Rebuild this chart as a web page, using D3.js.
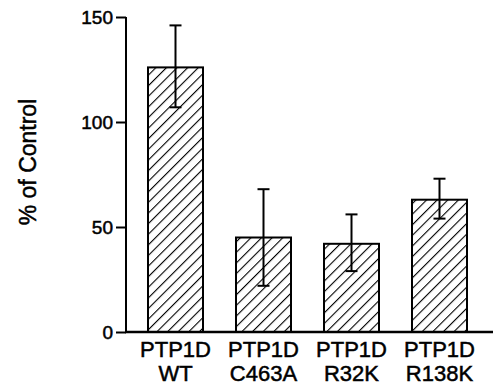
<!DOCTYPE html>
<html>
<head>
<meta charset="utf-8">
<script src="https://cdn.jsdelivr.net/npm/d3@7"></script>
<style>
  body { margin: 0; background: #fff; }
  svg { font-family: "Liberation Sans", Arial, Helvetica, sans-serif; }
  text { stroke: #000; stroke-width: 0.5px; }
</style>
</head>
<body>
<div id="chart"></div>
<script>
// values
var groups = ["WT", "C463A", "R32K", "R138K"];
var values = [126, 45, 42, 63];
var errHigh = [146, 68, 56, 73];
var errLow = [107, 22, 29, 54];
var yTicks = [0, 50, 100, 150];

var width = 493, height = 385;

var svg = d3.select("#chart")
    .append("svg")
    .attr("width", width)
    .attr("height", height);

// hatch fill
var defs = svg.append("defs");
defs.append("pattern")
    .attr("id", "hatch")
    .attr("patternUnits", "userSpaceOnUse")
    .attr("width", 7.5)
    .attr("height", 7.5)
    .attr("patternTransform", "rotate(45)")
  .append("line")
    .attr("x1", 0).attr("y1", 0)
    .attr("x2", 0).attr("y2", 7.5)
    .attr("stroke", "#000")
    .attr("stroke-width", 2.2);

var x = d3.scaleBand()
    .domain(groups)
    .range([148, 467])
    .paddingInner(0.375)
    .paddingOuter(0);

var y = d3.scaleLinear()
    .domain([0, 150])
    .range([332, 17]);

// y axis
var yAxis = svg.append("g")
    .attr("transform", "translate(126,0)")
    .call(d3.axisLeft(y).tickValues(yTicks).tickSize(10).tickPadding(3));
yAxis.select(".domain").remove();
yAxis.selectAll("line").attr("stroke", "#000").attr("stroke-width", 2);
yAxis.selectAll("text")
    .attr("font-size", 19)
    .attr("font-family", "Liberation Sans, Arial, sans-serif")
    .attr("fill", "#000");

svg.append("line")
    .attr("x1", 126).attr("x2", 126)
    .attr("y1", y(150)).attr("y2", y(0))
    .attr("stroke", "#000").attr("stroke-width", 2);

// bars
svg.append("g")
  .selectAll("rect")
  .data(groups)
  .enter().append("rect")
    .attr("x", function(d) { return x(d); })
    .attr("y", function(d, i) { return y(values[i]); })
    .attr("width", x.bandwidth())
    .attr("height", function(d, i) { return y(0) - y(values[i]); })
    .attr("fill", "url(#hatch)")
    .attr("stroke", "#000")
    .attr("stroke-width", 2);

// baseline
svg.append("line")
    .attr("x1", 125).attr("x2", width)
    .attr("y1", y(0)).attr("y2", y(0))
    .attr("stroke", "#000").attr("stroke-width", 2.5);

// error bars
var err = svg.append("g").attr("stroke", "#000").attr("stroke-width", 2);
groups.forEach(function(d, i) {
  var cx = x(d) + x.bandwidth() / 2;
  err.append("line")
      .attr("x1", cx).attr("x2", cx)
      .attr("y1", y(errHigh[i])).attr("y2", y(errLow[i]));
  [errHigh[i], errLow[i]].forEach(function(v) {
    err.append("line")
        .attr("x1", cx - 6).attr("x2", cx + 6)
        .attr("y1", y(v)).attr("y2", y(v));
  });
});

// x labels
var labels = svg.append("g")
    .attr("font-size", 22)
    .attr("text-anchor", "middle")
    .attr("fill", "#000");
groups.forEach(function(d) {
  var cx = x(d) + x.bandwidth() / 2;
  labels.append("text").attr("x", cx).attr("y", 357).text("PTP1D");
  labels.append("text").attr("x", cx).attr("y", 381).text(d);
});

// y title
svg.append("text")
    .attr("transform", "translate(36,162) rotate(-90)")
    .attr("text-anchor", "middle")
    .attr("font-size", 23)
    .attr("fill", "#000")
    .text("% of Control");
</script>
</body>
</html>
